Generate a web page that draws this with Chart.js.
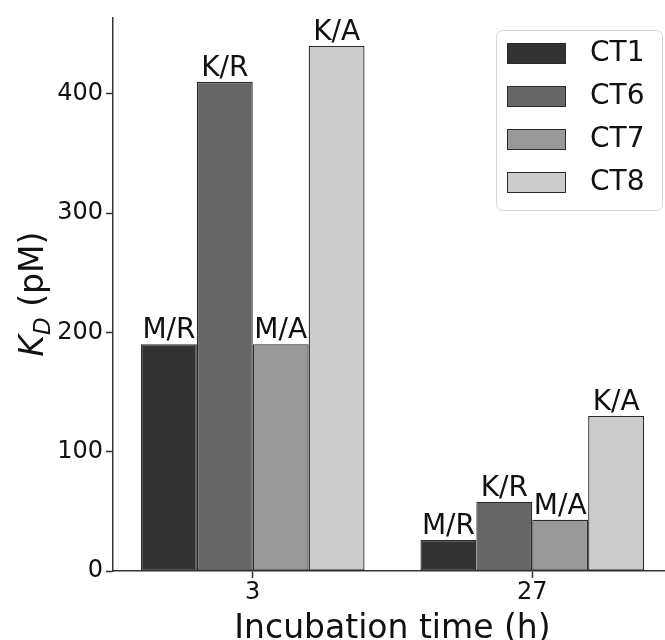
<!DOCTYPE html>
<html>
<head>
<meta charset="utf-8">
<script src="https://cdn.jsdelivr.net/npm/chart.js@4.4.0/dist/chart.umd.min.js"></script>
<style>
    html, body { margin: 0; padding: 0; background: #fff; overflow: hidden; }
    #wrap { width: 680px; height: 640px; }
</style>
</head>
<body>
<div id="wrap"><canvas id="kd-chart" width="680" height="640"></canvas></div>
<script>
// data
const times = ['3', '27'];
const seriesNames = ['CT1', 'CT6', 'CT7', 'CT8'];
const ct1 = [190, 26];
const ct6 = [410, 58];
const ct7 = [190, 43];
const ct8 = [440, 130];
const barTags = ['M/R', 'K/R', 'M/A', 'K/A'];
const yTicks = [0, 100, 200, 300, 400];
const greys = ['#333333', '#666666', '#999999', '#cccccc'];

const FONT = 'DejaVu Sans';
const INK = '#111111';
const SPINE = '#333333';

const values = [ct1, ct6, ct7, ct8];

// labels on top of every bar
const barTagPlugin = {
    id: 'barTags',
    afterDatasetsDraw(chart) {
        const ctx = chart.ctx;
        ctx.save();
        ctx.font = '28px "' + FONT + '"';
        ctx.fillStyle = INK;
        ctx.textAlign = 'center';
        ctx.textBaseline = 'alphabetic';
        chart.data.datasets.forEach((ds, i) => {
            chart.getDatasetMeta(i).data.forEach(bar => {
                ctx.fillText(barTags[i], bar.x, bar.y - 6);
            });
        });
        ctx.restore();
    }
};

// axis titles (K_D needs italic + subscript) and the boxed legend
const decorPlugin = {
    id: 'decor',
    afterDraw(chart) {
        const ctx = chart.ctx;
        const area = chart.chartArea;
        ctx.save();
        ctx.fillStyle = INK;

        // x title
        ctx.font = '33px "' + FONT + '"';
        ctx.textAlign = 'center';
        ctx.textBaseline = 'alphabetic';
        ctx.fillText('Incubation time (h)', (area.left + area.right) / 2, 638);

        // y title, rotated
        const kFont = 'italic 33px "' + FONT + '"';
        const dFont = 'italic 23px "' + FONT + '"';
        const rFont = '33px "' + FONT + '"';
        ctx.font = kFont; const wK = ctx.measureText('K').width;
        ctx.font = dFont; const wD = ctx.measureText('D').width;
        ctx.font = rFont; const wR = ctx.measureText(' (pM)').width;
        const total = wK + wD + wR;
        ctx.translate(43, (area.top + area.bottom) / 2);
        ctx.rotate(-Math.PI / 2);
        ctx.textAlign = 'left';
        let x = -total / 2;
        ctx.font = kFont; ctx.fillText('K', x, 0); x += wK;
        ctx.font = dFont; ctx.fillText('D', x, 7); x += wD;
        ctx.font = rFont; ctx.fillText(' (pM)', x, 0);
        ctx.setTransform(1, 0, 0, 1, 0, 0);

        // legend
        const lx = 496, ly = 30, lw = 166, lh = 180;
        ctx.beginPath();
        ctx.roundRect(lx + 0.5, ly + 0.5, lw, lh, 6);
        ctx.fillStyle = 'rgba(255,255,255,0.8)';
        ctx.fill();
        ctx.strokeStyle = '#d6d6d6';
        ctx.lineWidth = 1;
        ctx.stroke();
        ctx.font = '28px "' + FONT + '"';
        ctx.textAlign = 'left';
        ctx.textBaseline = 'middle';
        seriesNames.forEach((name, i) => {
            const top = 43 + i * 43;
            ctx.fillStyle = greys[i];
            ctx.fillRect(507, top, 59, 21);
            ctx.strokeStyle = '#2b2b2b';
            ctx.strokeRect(507.5, top + 0.5, 58, 20);
            ctx.fillStyle = INK;
            ctx.fillText(name, 590, top + 11);
        });
        ctx.restore();
    }
};

new Chart(document.getElementById('kd-chart'), {
    type: 'bar',
    data: {
        labels: times,
        datasets: seriesNames.map((name, i) => ({
            label: name,
            data: values[i],
            backgroundColor: greys[i],
            borderColor: '#2b2b2b',
            borderWidth: 1.3,
            borderSkipped: false,
            categoryPercentage: 0.8,
            barPercentage: 1.0
        }))
    },
    options: {
        responsive: false,
        animation: false,
        layout: { padding: { top: 13, right: 8, left: 0, bottom: 0 } },
        plugins: {
            legend: { display: false },
            tooltip: { enabled: false }
        },
        scales: {
            x: {
                offset: true,
                grid: {
                    offset: false,
                    drawOnChartArea: false,
                    drawTicks: true,
                    tickLength: 7,
                    tickWidth: 1.5,
                    tickColor: SPINE
                },
                border: { display: true, color: SPINE, width: 1.5 },
                ticks: {
                    color: INK,
                    padding: 0,
                    font: { family: FONT, size: 24 }
                },
                afterFit(scale) { scale.height = 69; }
            },
            y: {
                min: 0,
                max: 464,
                grid: {
                    drawOnChartArea: false,
                    drawTicks: true,
                    tickLength: 7,
                    tickWidth: 1.5,
                    tickColor: SPINE
                },
                border: { display: true, color: SPINE, width: 1.5 },
                ticks: {
                    color: INK,
                    padding: 3,
                    stepSize: 100,
                    font: { family: FONT, size: 24 }
                },
                afterBuildTicks(scale) {
                    scale.ticks = yTicks.map(v => ({ value: v }));
                },
                afterFit(scale) { scale.width = 113; }
            }
        }
    },
    plugins: [barTagPlugin, decorPlugin]
});
</script>
</body>
</html>
